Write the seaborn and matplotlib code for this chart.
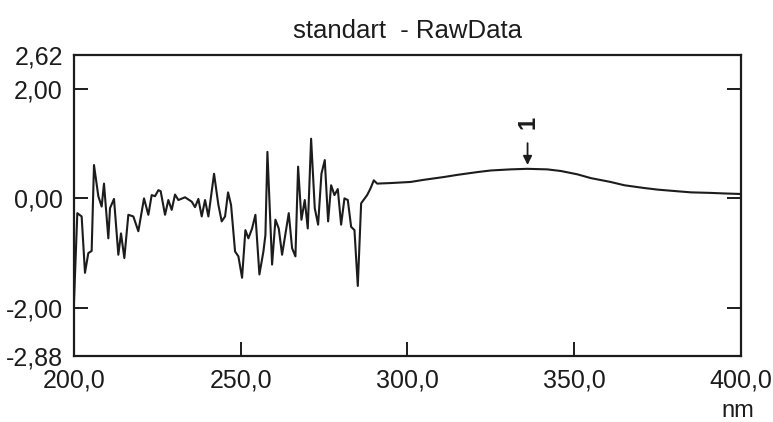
import numpy as np
import pandas as pd
import matplotlib
matplotlib.use("Agg")
import matplotlib.pyplot as plt
from matplotlib.ticker import FuncFormatter
import seaborn as sns

# Spectrum: noisy region below ~290 nm, smooth band above
wavelength = [200.0, 201.0, 202.3, 203.3, 204.3, 205.3, 206.0, 207.3, 208.3, 209.0,
              210.3, 210.8, 212.0, 213.3, 214.1, 215.1, 216.3, 217.8, 219.3, 221.0,
              222.3, 223.3, 224.3, 225.3, 226.0, 227.3, 228.3, 229.3, 230.3, 231.3,
              233.3, 235.3, 236.3, 237.3, 238.3, 239.3, 240.3, 242.0, 243.3, 244.3,
              245.3, 246.2, 247.1, 248.3, 249.3, 250.4, 251.4, 252.3, 253.4, 254.4,
              255.6, 256.8, 257.4, 258.0, 259.4, 260.4, 261.4, 262.4, 264.4, 265.4,
              266.4, 267.2, 268.2, 269.2, 270.1, 271.1, 272.2, 273.2, 274.2, 275.2,
              276.2, 277.1, 278.1, 279.1, 280.1, 281.1, 282.1, 283.1, 284.1, 285.1,
              286.1, 287.9, 288.9, 289.9, 290.9, 295.0, 300.9, 305.0, 310.9, 315.0,
              320.9, 325.0, 330.9, 335.9, 341.9, 346.0, 350.9, 355.0, 360.9, 365.0,
              370.9, 375.0, 380.9, 385.0, 390.9, 395.0, 400.0]
absorbance = [-1.90, -0.27, -0.33, -1.36, -1.00, -0.96, 0.61, 0.04, -0.15, 0.27,
              -0.73, -0.18, -0.01, -1.03, -0.64, -1.09, -0.30, -0.33, -0.60, 0.00,
              -0.30, 0.06, 0.04, 0.15, 0.13, -0.30, -0.03, -0.21, 0.07, -0.03,
              0.02, -0.06, -0.16, -0.01, -0.33, -0.03, -0.33, 0.45, -0.12, -0.42,
              -0.33, 0.11, -0.12, -0.97, -1.06, -1.45, -0.58, -0.73, -0.55, -0.30,
              -1.39, -0.97, -0.67, 0.85, -1.21, -0.39, -0.55, -1.03, -0.27, -0.91,
              -1.06, 0.58, -0.39, -0.03, -0.55, 1.09, -0.18, -0.48, 0.45, 0.70,
              -0.42, 0.24, 0.06, 0.17, -0.48, 0.00, -0.03, -0.52, -0.58, -1.60,
              -0.09, 0.06, 0.18, 0.33, 0.27, 0.28, 0.30, 0.34, 0.39, 0.43,
              0.48, 0.51, 0.53, 0.54, 0.53, 0.50, 0.44, 0.37, 0.30, 0.24,
              0.19, 0.16, 0.13, 0.11, 0.10, 0.09, 0.08]

peak_nm = 336.0
peak_label = "1"

x_ticks = [200, 250, 300, 350, 400]
y_ticks = [-2.88, -2.00, 0.00, 2.00, 2.62]

df = pd.DataFrame({"nm": wavelength, "value": absorbance})

sns.set_style("white")
plt.rcParams["font.family"] = ["Liberation Sans", "DejaVu Sans"]

ink = "#1c1c1c"
fig = plt.figure(figsize=(7.73, 4.22), dpi=100)
ax = fig.add_axes([0.0957, 0.1564, 0.8629, 0.7133])

sns.lineplot(data=df, x="nm", y="value", ax=ax, color=ink, linewidth=1.5,
             estimator=None, sort=False)

ax.set_xlim(200, 400)
ax.set_ylim(-2.88, 2.62)
ax.set_xticks(x_ticks)
ax.set_yticks(y_ticks)
ax.xaxis.set_major_formatter(FuncFormatter(lambda v, p: f"{v:.1f}".replace(".", ",")))
ax.yaxis.set_major_formatter(FuncFormatter(lambda v, p: f"{v:.2f}".replace(".", ",")))
ax.tick_params(axis="both", direction="in", length=10, width=1.4, colors=ink,
               labelsize=18, labelcolor=ink)
ax.tick_params(axis="y", left=True, right=True, pad=8)
ax.tick_params(axis="x", bottom=True, top=False, pad=9)
for t in (ax.yaxis.get_major_ticks()[0], ax.yaxis.get_major_ticks()[-1]):
    t.tick1line.set_visible(False)
    t.tick2line.set_visible(False)
for t in (ax.xaxis.get_major_ticks()[0], ax.xaxis.get_major_ticks()[-1]):
    t.tick1line.set_visible(False)

for s in ax.spines.values():
    s.set_color(ink)
    s.set_linewidth(1.6)

ax.set_xlabel("")
ax.set_ylabel("")
ax.set_title("standart  - RawData", fontsize=18.5, color=ink, pad=12)

# peak marker
peak_val = np.interp(peak_nm, wavelength, absorbance)
ax.annotate("", xy=(peak_nm, peak_val + 0.02), xytext=(peak_nm, peak_val + 0.52),
            arrowprops=dict(arrowstyle="-|>", color=ink, lw=1.3, mutation_scale=13))
ax.text(peak_nm, peak_val + 0.85, peak_label, rotation=90, ha="center", va="center",
        fontsize=17, color=ink, fontweight="bold")

ax.text(0.995, -0.183, "nm", transform=ax.transAxes, ha="center", va="center",
        fontsize=17, color=ink)

fig.savefig("out.png", dpi=100)
